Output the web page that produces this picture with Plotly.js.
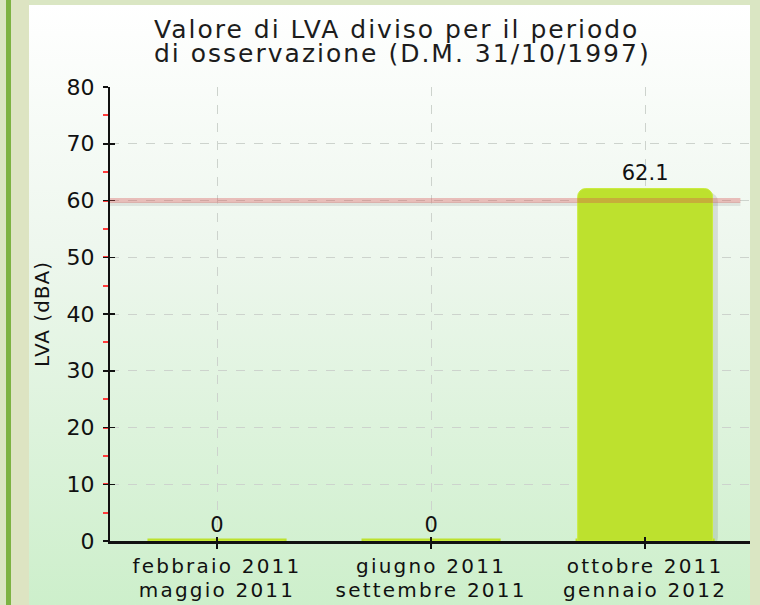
<!DOCTYPE html>
<html>
<head>
<meta charset="utf-8">
<script src="https://cdn.plot.ly/plotly-3.0.1.min.js"></script>
<style>
  html, body { margin: 0; padding: 0; width: 760px; height: 605px; overflow: hidden; background: #dae6c3; }
  #stripe { position: absolute; left: 6px; top: 0; width: 5px; height: 605px; background: #7db343; }
  #band { position: absolute; left: 11px; top: 0; width: 18px; height: 605px; background: #dde4c2; }
  #panel { position: absolute; left: 29px; top: 5px; width: 721px; height: 600px;
           background: linear-gradient(to bottom, #ffffff 0%, #eef7ee 40%, #cdefcb 100%); }
  #chart { position: absolute; left: 0; top: 0; width: 760px; height: 605px; }
  #chart .gtitle { letter-spacing: 2px; }
  #chart .xtick text { letter-spacing: 2.2px; }
  #chart .ytitle { letter-spacing: 1px; }
</style>
</head>
<body>
<div id="stripe"></div>
<div id="band"></div>
<div id="panel"></div>
<div id="chart"></div>
<script>
// ---- data ----
const categories = [
  "febbraio 2011<br>maggio 2011",
  "giugno 2011<br>settembre 2011",
  "ottobre 2011<br>gennaio 2012"
];
const lvaValues = [0, 0, 62.1];
const valueLabels = ["0", "0", "62.1"];
const limitValue = 60;
const yTickVals = [0, 10, 20, 30, 40, 50, 60, 70, 80];

const FONT = "DejaVu Sans, sans-serif";
const barColor = "#bde12e";

const traces = [
  {
    type: "bar", x: categories, y: lvaValues, base: -0.8,
    width: 0.63, offset: -0.29,
    marker: { color: "rgba(0,0,0,0.10)", cornerradius: 8 },
    hoverinfo: "skip", showlegend: false
  },
  {
    type: "bar", x: categories, y: categories.map(() => 0.45),
    width: 0.65,
    marker: { color: barColor },
    hoverinfo: "skip", showlegend: false
  },
  {
    type: "bar", x: categories, y: lvaValues,
    width: 0.63,
    marker: { color: barColor, cornerradius: 8, line: { color: "#c9ec3a", width: 1 } },
    showlegend: false
  },
  {
    type: "scatter", mode: "markers+text", x: categories, y: lvaValues,
    text: valueLabels, textposition: "top center",
    marker: { size: 4, color: "rgba(0,0,0,0)" },
    textfont: { family: FONT, size: 21, color: "#111" },
    hoverinfo: "skip", showlegend: false, cliponaxis: false
  },
  {
    type: "scatter", mode: "markers", x: categories, y: categories.map(() => null),
    xaxis: "x2", yaxis: "y2", hoverinfo: "skip", showlegend: false
  }
];

const layout = {
  width: 760, height: 605,
  margin: { l: 110, r: 10, t: 87, b: 64 },
  paper_bgcolor: "rgba(0,0,0,0)",
  plot_bgcolor: "rgba(0,0,0,0)",
  barmode: "overlay",
  font: { family: FONT, color: "#111" },
  title: {
    text: "Valore di LVA diviso per il periodo<br>di osservazione (D.M. 31/10/1997)",
    font: { family: FONT, size: 25, color: "#1c1c1c" },
    xref: "container", x: 154 / 760, xanchor: "left",
    yref: "container", y: 0.99, yanchor: "top"
  },
  xaxis: {
    type: "category", range: [-0.5, 2.49],
    showline: true, linecolor: "#111", linewidth: 2.5,
    ticks: "outside", ticklen: 5, tickcolor: "#111", tickwidth: 1.5,
    showgrid: true, gridcolor: "#cdd3cd", griddash: "dash", gridwidth: 1,
    tickfont: { family: FONT, size: 20, color: "#111" },
    zeroline: false, fixedrange: true
  },
  yaxis: {
    range: [0, 80], tickvals: yTickVals,
    showline: true, linecolor: "#111", linewidth: 2,
    ticks: "outside", ticklen: 5, tickcolor: "#111", tickwidth: 1.5,
    showgrid: true, gridcolor: "#cdd3cd", griddash: "dash", gridwidth: 1,
    tickfont: { family: FONT, size: 22, color: "#111" },
    ticklabelstandoff: 4,
    minor: { dtick: 5, tick0: 5, ticks: "outside", ticklen: 5, tickcolor: "#ff3b3b", tickwidth: 2, showgrid: false },
    title: { text: "LVA (dBA)", font: { family: FONT, size: 20, color: "#111" }, standoff: 12 },
    zeroline: false, fixedrange: true
  },
  xaxis2: {
    type: "category", overlaying: "x", matches: "x", range: [-0.5, 2.49],
    ticks: "inside", ticklen: 4, tickcolor: "#111", tickwidth: 1.5,
    showticklabels: false, showgrid: false, showline: false, zeroline: false
  },
  yaxis2: {
    overlaying: "y", range: [0, 80], tickvals: yTickVals,
    ticks: "inside", ticklen: 5, tickcolor: "#111", tickwidth: 1.5,
    showticklabels: false, showgrid: false, showline: false, zeroline: false
  },
  shapes: [
    { type: "line", xref: "paper", x0: 0, x1: 0.985, yref: "y", y0: limitValue - 0.6, y1: limitValue - 0.6,
      line: { color: "rgba(0,0,0,0.08)", width: 4 }, layer: "below" },
    { type: "line", xref: "paper", x0: 0, x1: 0.985, yref: "y", y0: limitValue, y1: limitValue,
      line: { color: "rgba(215,80,80,0.35)", width: 5 }, layer: "above" }
  ]
};

Plotly.newPlot("chart", traces, layout, { displayModeBar: false, staticPlot: true }).then(function (gd) {
  // title: tighter line spacing, baselines as in the reference
  const title = gd.querySelector(".gtitle");
  if (title) {
    const lines = title.querySelectorAll("tspan.line");
    title.removeAttribute("transform");
    title.removeAttribute("dy");
    title.setAttribute("y", "38");
    lines.forEach(function (ln, i) {
      ln.removeAttribute("dy");
      ln.setAttribute("y", String(38 + i * 24));
    });
  }
  // x tick labels: only tighten the gap between the two lines
  gd.querySelectorAll(".xtick text").forEach(function (t) {
    const lines = t.querySelectorAll("tspan.line");
    if (lines.length > 1) lines[1].setAttribute("dy", "24");
  });
});
</script>
</body>
</html>
